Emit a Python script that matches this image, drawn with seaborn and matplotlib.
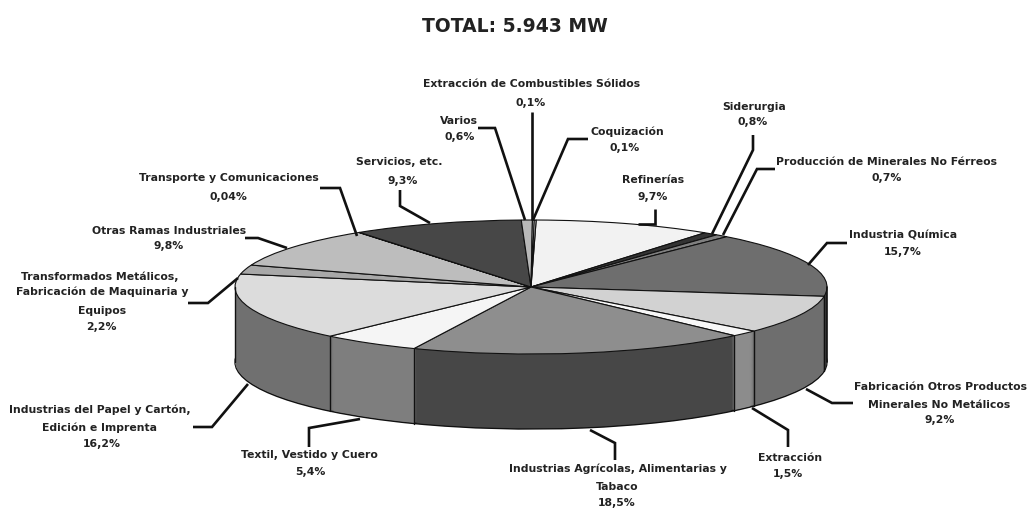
import numpy as np
import matplotlib
matplotlib.use('Agg')
import matplotlib.pyplot as plt
import seaborn as sns

# data, clockwise from the top
sectors = ['Refinerías', 'Siderurgia', 'Producción de Minerales No Férreos', 'Industria Química',
           'Fabricación Otros Productos Minerales No Metálicos', 'Extracción',
           'Industrias Agrícolas, Alimentarias y Tabaco', 'Textil, Vestido y Cuero',
           'Industrias del Papel y Cartón, Edición e Imprenta',
           'Transformados Metálicos, Fabricación de Maquinaria y Equipos',
           'Otras Ramas Industriales', 'Transporte y Comunicaciones', 'Servicios, etc.',
           'Varios', 'Extracción de Combustibles Sólidos', 'Coquización']
shares = [9.7, 0.8, 0.7, 15.7, 9.2, 1.5, 18.5, 5.4, 16.2, 2.2, 9.8, 0.04, 9.3, 0.6, 0.1, 0.1]
top_colors = ['#f2f2f2', '#333333', '#808080', '#6e6e6e', '#d2d2d2', '#f7f7f7', '#8e8e8e', '#f5f5f5',
              '#dcdcdc', '#a8a8a8', '#bdbdbd', '#555555', '#474747', '#b8b8b8', '#eeeeee', '#dddddd']
side_colors = ['#999999', '#333333', '#666666', '#3c3c3c', '#6e6e6e', '#8c8c8c', '#474747', '#7e7e7e',
               '#707070', '#777777', '#888888', '#444444', '#333333', '#777777', '#888888', '#888888']

title = 'TOTAL: 5.943 MW'

# label layout in image pixels: text lines as (text, x, y), leaders as polylines
label_lines = [
    ('Extracción de Combustibles Sólidos', 532, 84), ('0,1%', 531, 103),
    ('Varios', 459, 121), ('0,6%', 460, 137),
    ('Coquización', 627, 132), ('0,1%', 625, 148),
    ('Siderurgia', 754, 107), ('0,8%', 753, 122),
    ('Producción de Minerales No Férreos', 886, 162), ('0,7%', 887, 178),
    ('Refinerías', 653, 180), ('9,7%', 653, 197),
    ('Servicios, etc.', 399, 162), ('9,3%', 403, 181),
    ('Transporte y Comunicaciones', 229, 178), ('0,04%', 228, 197),
    ('Otras Ramas Industriales', 169, 231), ('9,8%', 169, 246),
    ('Transformados Metálicos,', 100, 277), ('Fabricación de Maquinaria y', 102, 292),
    ('Equipos', 102, 311), ('2,2%', 101, 327),
    ('Industria Química', 903, 236), ('15,7%', 903, 252),
    ('Fabricación Otros Productos', 941, 387), ('Minerales No Metálicos', 939, 405), ('9,2%', 940, 420),
    ('Extracción', 790, 458), ('1,5%', 788, 474),
    ('Industrias Agrícolas, Alimentarias y', 618, 469), ('Tabaco', 617, 487), ('18,5%', 617, 503),
    ('Textil, Vestido y Cuero', 309, 455), ('5,4%', 310, 472),
    ('Industrias del Papel y Cartón,', 100, 410), ('Edición e Imprenta', 99, 428), ('16,2%', 102, 444),
]
leaders = [
    [(532, 112), (532, 220)],
    [(478, 128), (495, 128), (525, 220)],
    [(588, 139), (568, 139), (533, 220)],
    [(753, 135), (753, 150), (712, 234)],
    [(775, 169), (757, 169), (723, 235)],
    [(655, 209), (655, 224), (638, 224)],
    [(400, 190), (400, 206), (430, 223)],
    [(320, 188), (340, 188), (357, 236)],
    [(245, 238), (258, 238), (287, 248)],
    [(188, 303), (208, 303), (238, 278)],
    [(847, 243), (827, 243), (808, 265)],
    [(853, 403), (832, 403), (806, 389)],
    [(788, 447), (788, 430), (752, 408)],
    [(615, 460), (615, 443), (590, 430)],
    [(309, 447), (309, 428), (360, 419)],
    [(193, 427), (212, 427), (248, 384)],
]

# pie geometry in image pixels
CX, CY = 531, 287
RX, RY = 296, 67
DEPTH = 75 / RY
START = 89

sns.set_theme(style='white')
plt.rcParams['font.family'] = ['DejaVu Sans']

fig = plt.figure(figsize=(10.29, 5.08), dpi=100, facecolor='white')
ax = fig.add_axes([0, 0, 1, 1])

# bottom rim first, then stacked layers for the side wall
ax.pie(shares, colors=side_colors, startangle=START, counterclock=False, center=(0, -DEPTH),
       wedgeprops={'edgecolor': '#111111', 'linewidth': 1.0})
for d in np.arange(DEPTH - 0.015, 0, -0.015):
    ax.pie(shares, colors=side_colors, startangle=START, counterclock=False, center=(0, -d),
           wedgeprops={'linewidth': 0})

# vertical seams on the visible front of the wall
bounds = START - np.cumsum(shares) / np.sum(shares) * 360
for b in bounds:
    a = np.deg2rad(b)
    if np.sin(a) < 0:
        ax.plot([np.cos(a), np.cos(a)], [np.sin(a), np.sin(a) - DEPTH], color='#111111', lw=1.0)
ax.plot([-1, -1], [0, -DEPTH], color='#111111', lw=1.0)
ax.plot([1, 1], [0, -DEPTH], color='#111111', lw=1.2)

ax.pie(shares, colors=top_colors, startangle=START, counterclock=False,
       wedgeprops={'edgecolor': '#111111', 'linewidth': 0.8})

# squash the circle into the tilted ellipse
ax.set_aspect('auto')
ax.set_xlim(-CX / RX, (1029 - CX) / RX)
ax.set_ylim(-(508 - CY) / RY, CY / RY)

# overlay in pixel coordinates for the labels
ann = fig.add_axes([0, 0, 1, 1])
ann.patch.set_alpha(0)
ann.set_xlim(0, 1029)
ann.set_ylim(508, 0)
ann.axis('off')

for line in leaders:
    xs, ys = zip(*line)
    ann.plot(xs, ys, color='#111111', lw=1.9, solid_joinstyle='miter', solid_capstyle='butt')
for text, x, y in label_lines:
    ann.text(x, y, text, ha='center', va='center', fontsize=7.8, fontweight='bold', color='#222222')
ann.text(515, 27, title, ha='center', va='center', fontsize=13.5, fontweight='bold', color='#222222')

fig.savefig('out.png', dpi=100)
